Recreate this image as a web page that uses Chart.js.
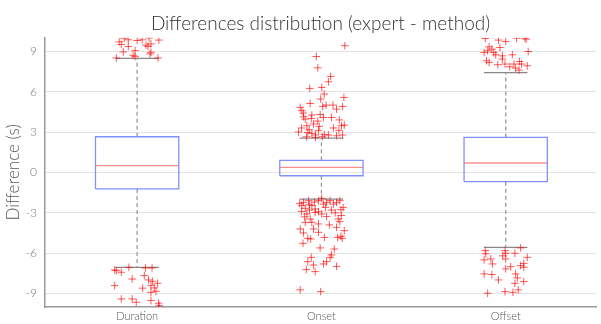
<!DOCTYPE html>
<html>
<head>
<meta charset="utf-8">
<script src="https://cdn.jsdelivr.net/npm/chart.js@4"></script>
<style>
  html, body { margin: 0; padding: 0; background: #fff; }
  #wrap { width: 601px; height: 324px; }
</style>
</head>
<body>
<div id="wrap"><canvas id="boxChart"></canvas></div>
<script>
// categories and box statistics (seconds)
const categories = ["Duration", "Onset", "Offset"];
const q1 = [-1.23, -0.25, -0.69];
const median = [0.5, 0.37, 0.7];
const q3 = [2.65, 0.9, 2.6];
const whiskerLow = [-7.05, -1.98, -5.57];
const whiskerHigh = [8.47, 2.55, 7.42];
const yTicks = [-9, -6, -3, 0, 3, 6, 9];

// outliers: [jitter from category centre, difference]
const durationOutliers = [
    [-0.097, 9.7], [-0.07, 9.97], [-0.048, 9.85], [-0.086, 9.5], [-0.048, 9.35],
    [0, 9.8], [0.027, 9.85], [0.065, 9.98], [0.118, 9.83], [0.048, 9.46],
    [0.059, 9.36], [0.075, 9.55], [-0.011, 9.05], [-0.075, 8.95], [0.075, 8.92],
    [-0.022, 8.7], [-0.113, 8.5], [0.113, 8.5], [-0.011, 8.6], [0.07, 8.8],
    [-0.122, -7.25], [-0.113, -7.3], [-0.086, -7.42], [-0.045, -7.05], [-0.027, -7.92],
    [0.045, -7.1], [0.081, -7.1], [0.039, -7.67], [0.062, -7.99], [0.084, -8.09],
    [0.111, -8.24], [0.075, -8.41], [0.093, -8.58], [0.102, -8.83], [-0.122, -8.41],
    [0.075, -8.91], [0.03, -8.6], [-0.086, -9.4], [-0.027, -9.4], [-0.005, -9.65],
    [0.075, -9.52], [0.116, -9.72], [0.12, -9.9]
];
const onsetOutliers = [
    [0.127, 9.41], [-0.028, 8.61], [-0.02, 7.77], [0.05, 7.13], [0.038, 6.73],
    [-0.063, 6.24], [0.002, 6.31], [0.015, 5.82], [0.122, 5.57], [-0.004, 5.45],
    [-0.061, 5.12], [0.025, 5.0], [0.007, 4.9], [0.063, 5.0], [0.115, 4.9],
    [0.082, 4.7], [-0.115, 4.83], [-0.098, 4.41], [-0.052, 4.26], [-0.007, 4.3],
    [0.011, 4.08], [0.055, 4.08], [-0.088, 3.96], [-0.055, 4.0], [-0.02, 3.81],
    [-0.079, 3.47], [-0.012, 3.42], [0.109, 3.47], [0.124, 3.52], [-0.066, 3.17],
    [-0.016, 3.1], [0.095, 3.12], [-0.074, 2.97], [-0.032, 2.78], [0.016, 2.8],
    [0.038, 2.78], [0.082, 2.72], [0.115, 2.78], [-0.052, 2.9], [-0.106, 4.58],
    [-0.097, 4.13], [-0.124, 3.0], [-0.108, 3.3], [-0.081, 2.65], [-0.043, 3.6],
    [0.065, 3.3], [0.097, 3.9], [-0.032, 2.6], [0.005, 2.65],
    [-0.106, -2.47], [-0.088, -2.67], [-0.097, -2.23], [-0.07, -2.1], [-0.052, -2.47],
    [-0.034, -2.72], [-0.016, -2.1], [0.002, -1.93], [0.011, -2.35], [0.028, -2.23],
    [0.047, -2.1], [0.065, -2.35], [0.082, -2.23], [0.1, -2.1], [0.118, -2.6],
    [0.106, -2.77], [-0.079, -3.09], [-0.061, -3.46], [-0.034, -2.97], [-0.016, -2.92],
    [0.002, -3.09], [0.028, -3.27], [0.091, -3.46], [0.1, -3.66], [-0.016, -3.83],
    [-0.052, -3.71], [-0.115, -4.2], [-0.097, -4.5], [-0.074, -4.9], [-0.058, -4.95],
    [-0.016, -4.45], [0.016, -4.83], [0.082, -4.08], [0.088, -4.83], [0.113, -4.9],
    [0.124, -4.33], [0.106, -4.75], [-0.1, -5.27], [-0.007, -5.61], [0.07, -5.69],
    [0.055, -6.13], [0.047, -6.31], [-0.055, -6.31], [-0.074, -6.63], [-0.043, -6.88],
    [0.011, -6.8], [0.028, -6.63], [0.082, -6.98], [-0.082, -7.22], [-0.034, -7.37],
    [-0.115, -8.73], [-0.004, -8.86], [-0.088, -3.71], [-0.118, -2.3], [-0.065, -2.4],
    [-0.038, -2.2], [0.022, -2.6], [0.054, -2.8], [0.075, -3.0], [-0.108, -2.9],
    [-0.091, -3.3], [0.043, -3.9], [-0.043, -4.2], [0.108, -3.2], [-0.065, -2.8]
];
const offsetOutliers = [
    [-0.111, 9.95], [-0.039, 9.83], [0, 9.73], [0.059, 9.97], [0.104, 9.98],
    [0.111, 9.9], [-0.09, 9.33], [-0.075, 9.16], [-0.098, 9.03], [-0.117, 8.91],
    [-0.031, 9.28], [-0.054, 8.74], [-0.018, 8.66], [0.036, 8.74], [0.122, 8.98],
    [-0.104, 8.29], [-0.09, 8.17], [-0.018, 8.42], [-0.004, 8.05], [0.045, 8.05],
    [0.075, 8.24], [0.086, 8.05], [0.117, 7.92], [0.022, 7.85], [0.054, 7.75],
    [0.072, 7.6], [-0.065, 8.9], [-0.043, 8.0],
    [-0.111, -5.81], [-0.108, -6.05], [-0.004, -5.81], [0, -6.01], [0.05, -6.01],
    [0.081, -5.61], [0.117, -6.31], [-0.117, -6.5], [-0.081, -6.43], [-0.072, -6.8],
    [0, -6.43], [0.027, -7.0], [0, -7.17], [0.081, -6.93], [0.098, -6.76],
    [0.098, -7.05], [-0.117, -7.54], [-0.075, -7.59], [-0.039, -7.99], [0.054, -7.54],
    [0.063, -7.84], [0.05, -8.24], [0.098, -8.11], [-0.098, -8.98], [-0.004, -8.86],
    [0.039, -8.91], [0.068, -8.73], [-0.016, -6.2]
];
const outliers = [durationOutliers, onsetOutliers, offsetOutliers];

// sizes in category units
const boxHalf = 0.226;
const capHalf = 0.118;

const datasets = [];
categories.forEach((name, i) => {
    const c = i + 1;
    const line = (pts, color, dash, order) => ({
        data: pts, showLine: true, pointRadius: 0, borderColor: color,
        borderWidth: 1.3, borderDash: dash, fill: false, order: order
    });
    datasets.push(line([
        { x: c - boxHalf, y: q1[i] }, { x: c - boxHalf, y: q3[i] },
        { x: c + boxHalf, y: q3[i] }, { x: c + boxHalf, y: q1[i] },
        { x: c - boxHalf, y: q1[i] }
    ], "#7f90ff", [], 3));
    datasets.push(line([{ x: c - boxHalf, y: median[i] }, { x: c + boxHalf, y: median[i] }], "#ff8f8f", [], 3));
    datasets.push(line([{ x: c, y: q3[i] }, { x: c, y: whiskerHigh[i] }], "#999", [4, 3], 3));
    datasets.push(line([{ x: c, y: q1[i] }, { x: c, y: whiskerLow[i] }], "#999", [4, 3], 3));
    datasets.push(line([{ x: c - capHalf, y: whiskerHigh[i] }, { x: c + capHalf, y: whiskerHigh[i] }], "#888", [], 3));
    datasets.push(line([{ x: c - capHalf, y: whiskerLow[i] }, { x: c + capHalf, y: whiskerLow[i] }], "#888", [], 3));
});

datasets.push({
    data: outliers.flatMap((list, i) => list.map(p => ({ x: i + 1 + p[0], y: p[1] }))),
    pointStyle: "cross",
    pointRadius: 3.8,
    pointBorderWidth: 1,
    pointBorderColor: "rgba(255, 0, 0, 0.65)",
    showLine: false,
    order: 1
});

new Chart(document.getElementById("boxChart"), {
    type: "scatter",
    data: { datasets: datasets },
    options: {
        responsive: true,
        maintainAspectRatio: false,
        animation: false,
        layout: { padding: 0 },
        plugins: {
            legend: { display: false },
            tooltip: { enabled: false },
            title: {
                display: true,
                fullSize: false,
                text: "Differences distribution (expert - method)",
                color: "#333",
                font: { family: "Lato", size: 19, weight: 300 },
                padding: { top: 12, bottom: 3 }
            }
        },
        scales: {
            x: {
                type: "linear",
                min: 0.5,
                max: 3.49,
                afterBuildTicks: s => { s.ticks = categories.map((_, i) => ({ value: i + 1 })); },
                afterFit: s => { s.height = 17; },
                grid: { display: false, drawTicks: false, tickLength: 0 },
                border: { color: "#999", width: 1.5 },
                ticks: {
                    callback: v => categories[v - 1],
                    color: "#555",
                    padding: 3,
                    font: { family: "Lato", size: 11, weight: 300 }
                }
            },
            y: {
                min: -10,
                max: 10,
                afterBuildTicks: s => { s.ticks = yTicks.map(v => ({ value: v })); },
                afterFit: s => { s.width = 45; },
                grid: { color: "#e4e4e4", drawTicks: false },
                border: { color: "#999", width: 1.5 },
                ticks: {
                    color: "#777",
                    padding: 8,
                    font: { family: "Lato", size: 12, weight: 300 }
                },
                title: {
                    display: true,
                    text: "Difference (s)",
                    color: "#555",
                    padding: { top: 3, bottom: 0 },
                    font: { family: "Lato", size: 17, weight: 300 }
                }
            }
        }
    }
});
</script>
</body>
</html>
